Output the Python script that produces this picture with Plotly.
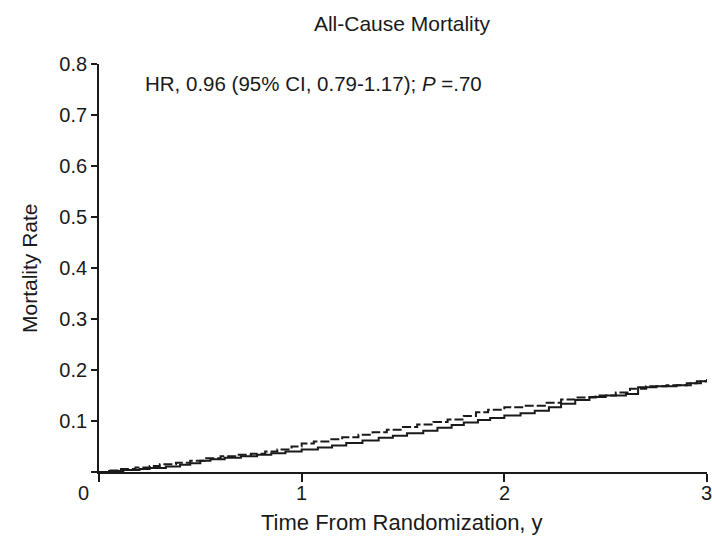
import plotly.graph_objects as go

# Kaplan-Meier style step curves
solid_t = [0, 0.05, 0.12, 0.2, 0.25, 0.33, 0.4, 0.45, 0.5, 0.55, 0.62, 0.7, 0.78, 0.85, 0.92, 1.0,
           1.08, 1.15, 1.22, 1.3, 1.38, 1.45, 1.52, 1.6, 1.67, 1.74, 1.8, 1.87, 1.93, 2.0, 2.08,
           2.15, 2.22, 2.28, 2.35, 2.42, 2.5, 2.6, 2.66, 2.75, 2.85, 2.92, 2.97, 3.0]
solid_y = [0, 0.002, 0.004, 0.006, 0.008, 0.011, 0.014, 0.017, 0.022, 0.025, 0.028, 0.031, 0.034,
           0.037, 0.040, 0.044, 0.048, 0.052, 0.057, 0.062, 0.067, 0.071, 0.076, 0.081, 0.087,
           0.092, 0.097, 0.102, 0.106, 0.111, 0.115, 0.120, 0.127, 0.134, 0.141, 0.147, 0.150,
           0.153, 0.166, 0.168, 0.170, 0.174, 0.178, 0.182]

dashed_t = [0, 0.04, 0.1, 0.18, 0.25, 0.3, 0.38, 0.45, 0.52, 0.6, 0.68, 0.75, 0.82, 0.88, 0.95, 1.0,
            1.06, 1.14, 1.2, 1.28, 1.35, 1.42, 1.5, 1.57, 1.65, 1.72, 1.8, 1.86, 1.92, 2.0, 2.1,
            2.2, 2.28, 2.35, 2.45, 2.55, 2.62, 2.7, 2.8, 2.9, 2.95, 3.0]
dashed_y = [0, 0.003, 0.006, 0.009, 0.012, 0.015, 0.018, 0.022, 0.027, 0.031, 0.034, 0.036, 0.040,
            0.044, 0.050, 0.056, 0.060, 0.064, 0.068, 0.073, 0.078, 0.083, 0.088, 0.093, 0.098,
            0.103, 0.110, 0.117, 0.122, 0.127, 0.130, 0.136, 0.142, 0.146, 0.150, 0.156, 0.163,
            0.168, 0.170, 0.174, 0.178, 0.182]

x_ticks = [0, 1, 2, 3]
x_ticklabels = ["0", "1", "2", "3"]
y_ticks = [0, 0.1, 0.2, 0.3, 0.4, 0.5, 0.6, 0.7, 0.8]
y_ticklabels = ["", "0.1", "0.2", "0.3", "0.4", "0.5", "0.6", "0.7", "0.8"]

title_text = "All-Cause Mortality"
hr_text = "HR, 0.96 (95% CI, 0.79-1.17); <i>P</i> =.70"
x_title = "Time From Randomization, y"
y_title = "Mortality Rate"

FONT = "Liberation Sans, Arial, sans-serif"
INK = "#1a1a1a"

fig = go.Figure()
fig.add_trace(go.Scatter(x=solid_t, y=solid_y, mode="lines", line_shape="hv",
                         line=dict(color=INK, width=2), showlegend=False))
fig.add_trace(go.Scatter(x=dashed_t, y=dashed_y, mode="lines", line_shape="hv",
                         line=dict(color=INK, width=2, dash="9px,3px"), showlegend=False))

W, H = 712, 536
ml, mr, mt, mb = 99, 5, 64, 64
PW, PH = W - ml - mr, H - mt - mb


def px(x):
    return (x - ml) / PW


def py(y):
    return 1 - (y - mt) / PH


# x tick labels drawn as text under their tick positions (the end ones sit at the page edges)
label_x_px = {0: 83, 1: None, 2: None, 3: 706}
tick_annotations = []
for v, lab in zip(x_ticks, x_ticklabels):
    xpos = label_x_px.get(v)
    if xpos is None:
        tick_annotations.append(dict(text=lab, x=v, xref="x", y=py(493), yref="paper",
                                     xanchor="center", yanchor="middle", showarrow=False,
                                     font=dict(size=20, color=INK)))
    else:
        tick_annotations.append(dict(text=lab, x=px(xpos), xref="paper", y=py(493), yref="paper",
                                     xanchor="center", yanchor="middle", showarrow=False,
                                     font=dict(size=20, color=INK)))

fig.update_layout(
    width=W, height=H,
    margin=dict(l=ml, r=mr, t=mt, b=mb),
    paper_bgcolor="white", plot_bgcolor="white",
    font=dict(family=FONT, size=20, color=INK),
    title=dict(text=title_text, x=402 / W, xanchor="center", y=1 - 24 / H, yanchor="middle",
               yref="container", xref="container", font=dict(size=21, color=INK)),
    xaxis=dict(range=[0, 3], tickvals=x_ticks, showticklabels=False, showgrid=False,
               zeroline=False, showline=True, linecolor=INK, linewidth=1.8,
               ticks="outside", ticklen=8, tickwidth=1.6, tickcolor=INK, fixedrange=True),
    yaxis=dict(range=[0, 0.8], tickvals=y_ticks, ticktext=y_ticklabels, showgrid=False,
               zeroline=False, showline=True, linecolor=INK, linewidth=1.8,
               ticks="outside", ticklen=6, tickwidth=1.6, tickcolor=INK,
               tickfont=dict(size=20), fixedrange=True),
    annotations=tick_annotations + [
        dict(text=hr_text, x=px(143), y=py(83),
             xref="paper", yref="paper", xanchor="left", yanchor="middle",
             showarrow=False, font=dict(size=20.5, color=INK)),
        dict(text=x_title, x=px(402), y=py(522),
             xref="paper", yref="paper", xanchor="center", yanchor="middle",
             showarrow=False, font=dict(size=22, color=INK)),
        dict(text=y_title, x=px(29), y=py(268),
             xref="paper", yref="paper", xanchor="center", yanchor="middle", textangle=-90,
             showarrow=False, font=dict(size=21, color=INK)),
    ],
)

fig.write_html("out.html")
